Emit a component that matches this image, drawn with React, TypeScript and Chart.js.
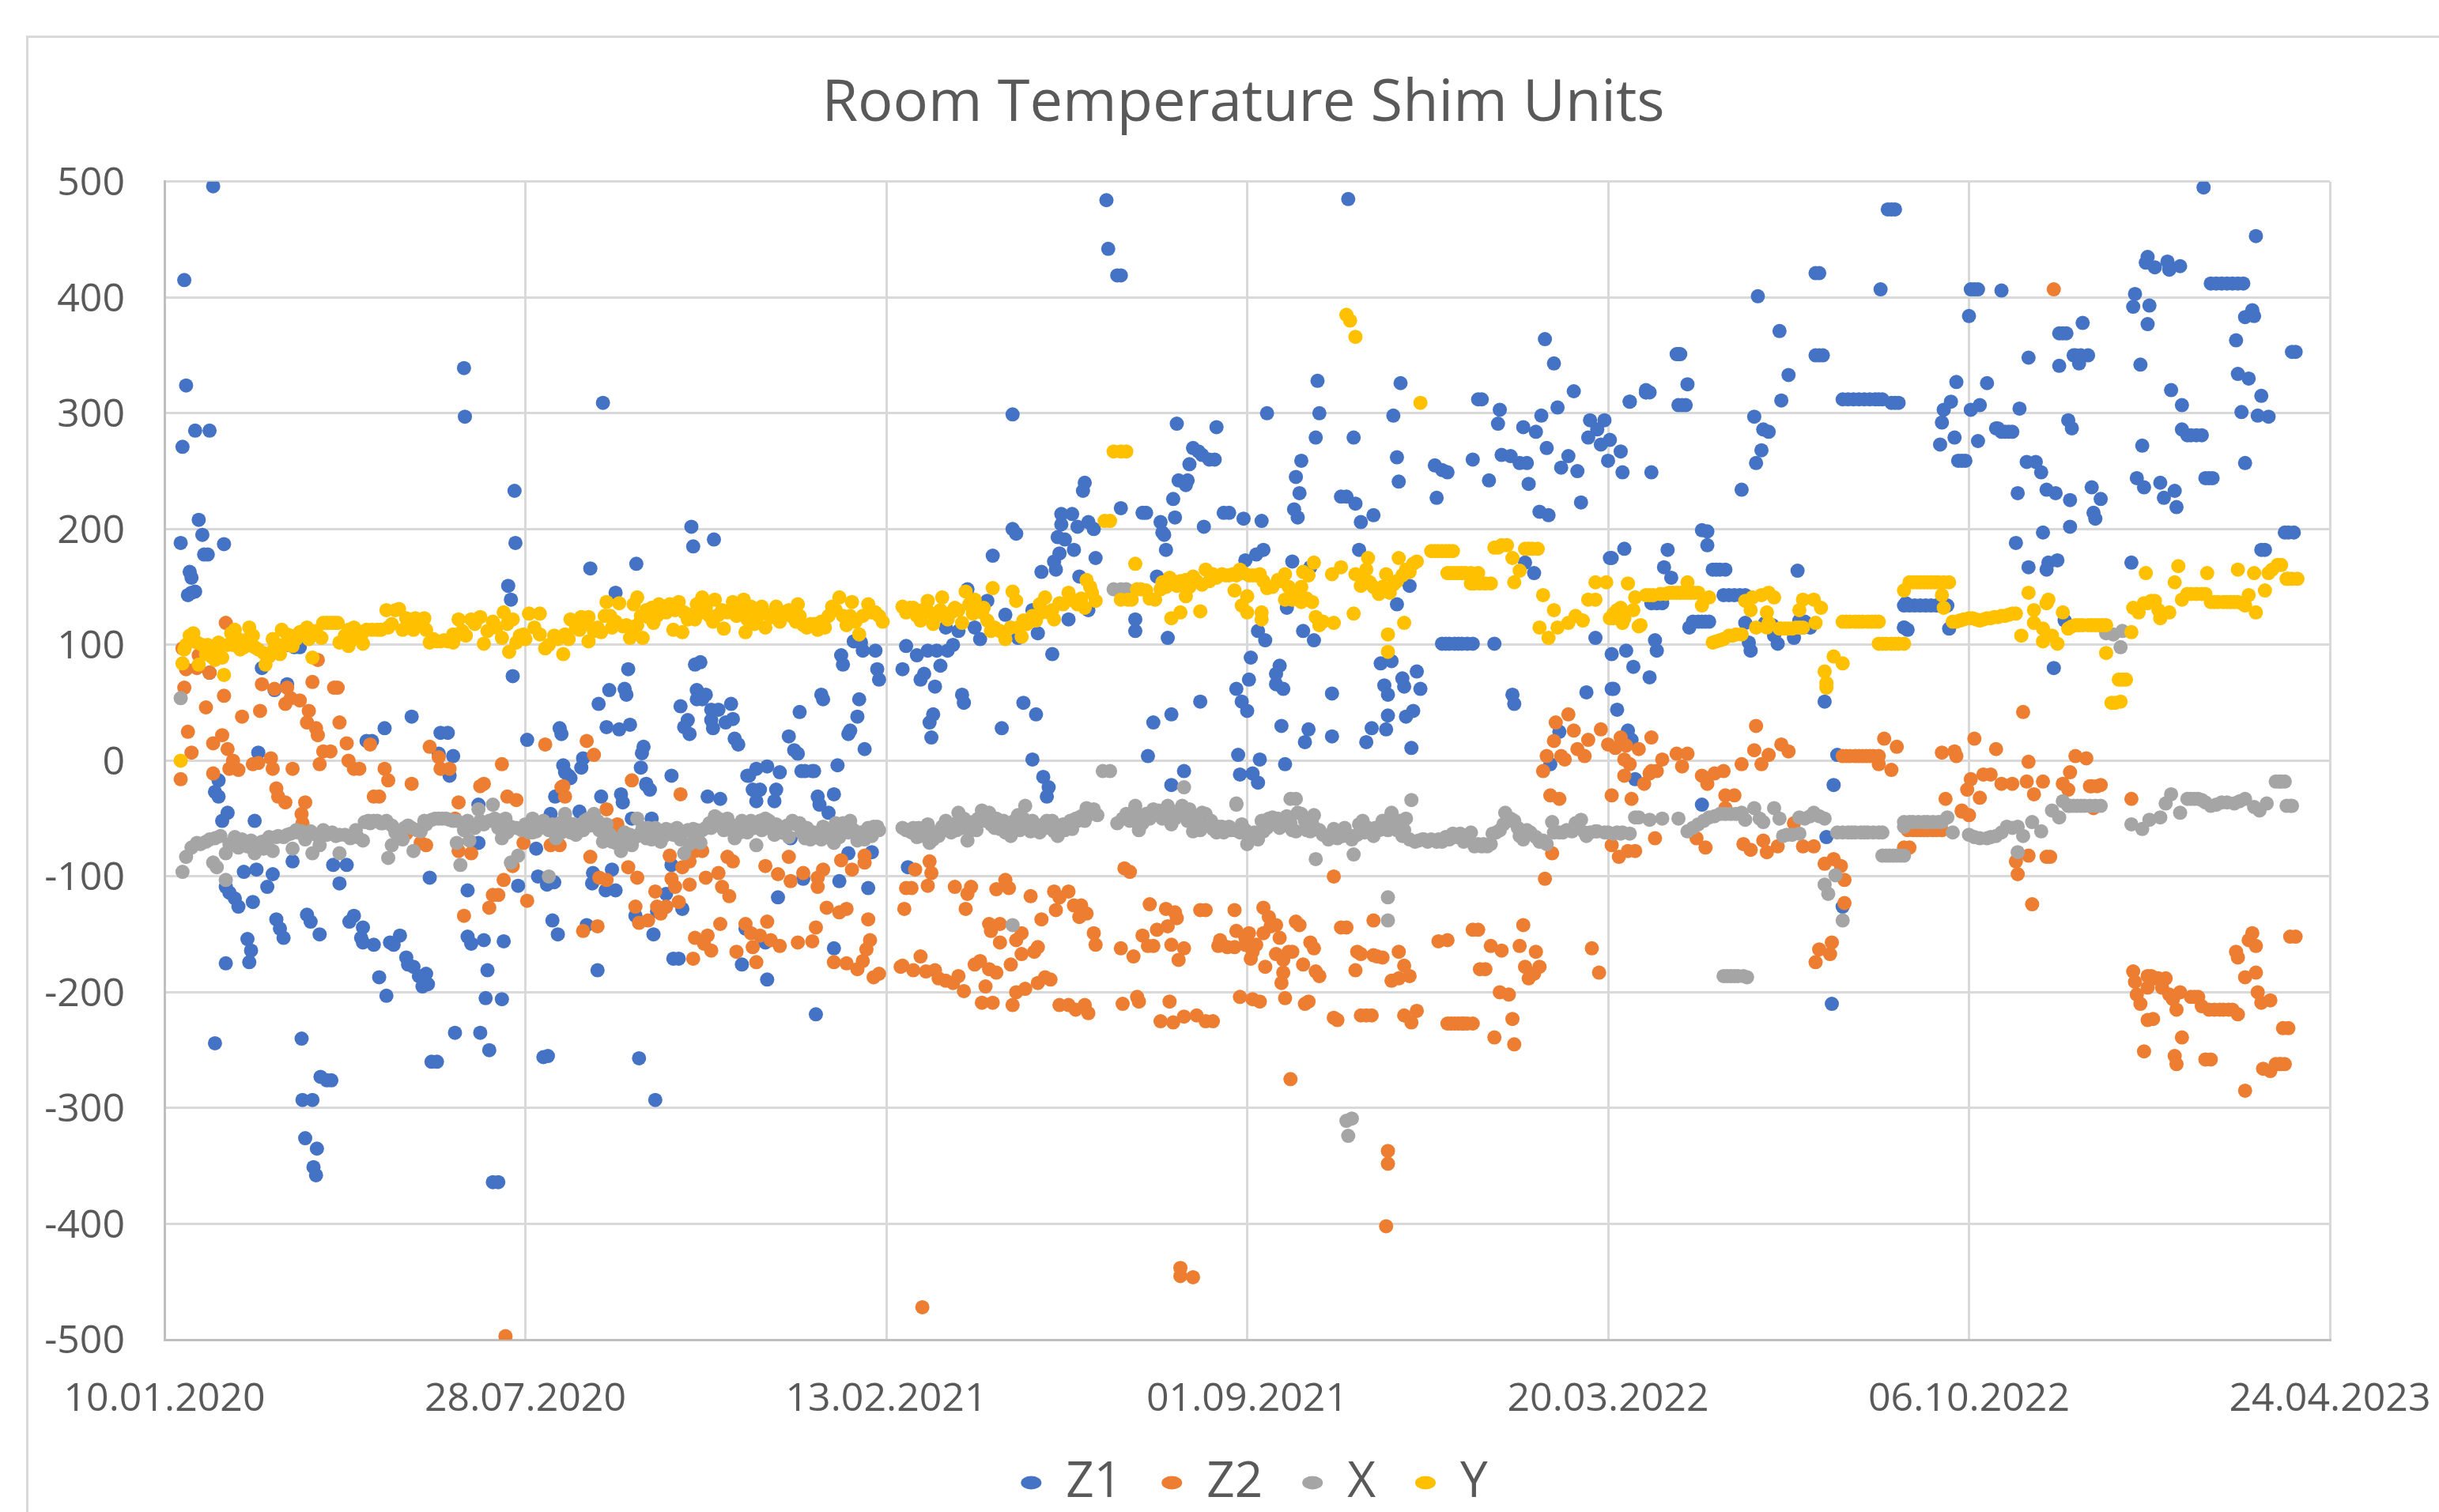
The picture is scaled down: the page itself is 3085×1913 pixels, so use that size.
import React, { useEffect, useRef } from "react";
import { Chart, registerables } from "chart.js";

Chart.register(...registerables);

const titleText = "Room Temperature Shim Units";
const xTickLabels = ["10.01.2020", "28.07.2020", "13.02.2021", "01.09.2021", "20.03.2022", "06.10.2022", "24.04.2023"];
const seriesNames = ["Z1", "Z2", "X", "Y"];

// [days since 10.01.2020, value]
const z1Data = [
[27,496],[11,415],[12,324],[17,285],[25,285],[10,271],[19,208],[21,195],[9,188],[33,187],[22,178],[24,178],[14,163],[15,158],[13,143],[17,146],[15,145],[68,100],[75,98],[72,98],[54,80],[25,76],[61,61],[68,66],[52,7],[30,-17],[137,38],[122,28],[112,17],[115,17],[152,6],[153,24],[157,24],[160,4],[158,-13],[194,233],[194.5,188],[190.5,151],[192,139],[193,73],[166,339],[166.5,297],[243,309],[292,202],[293,185],[304.5,191],[236,166],[261.5,170],[250,145],[257,79],[246.5,61],[240.6,49],[255,62],[256,57],[245,29],[252,27],[258,31],[201,18],[219,28],[220,23],[221,-4],[224,-13],[231,-6],[232,2],[264,-6],[265.5,12],[264.6,6.5],[267,-20],[281,-13],[294,83],[297,85],[286,47],[290,35],[288,29],[291,23],[295,61],[300,57],[295,53],[298,53],[303,44],[307,44],[303,35],[304,28],[311,33],[315,36],[314,49],[316,19],[318,14],[352,42],[364,57],[365,53],[346,21],[349,9],[351,6],[324,-13],[328,-7],[334,-5],[341,-10],[353,-9],[359,-9],[373,-4],[375,91],[376,83],[382,103],[386,102],[387,95],[385,53],[384,38],[379,23],[380,26],[388,10],
[28,-27],[30,-31],[35,-45],[32,-52],[50,-52],[71,-87],[60,-98],[44,-96],[51,-94],[34,-109],[36,-114],[39,-119],[41,-126],[49,-122],[57,-109],[62,-137],[64,-145],[66,-153],[46,-154],[48,-164],[47,-174],[34,-175],[79,-133],[81,-139],[86,-150],[93.5,-90],[101,-90],[97,-106],[105,-134],[102.5,-139],[110,-144],[109,-153],[110,-157],[116,-159],[125,-157],[130.5,-151],[127,-159],[147,-101],[134,-170],[135,-176],[138,-178],[145,-184],[146,-193],[143,-195],[141,-186],[119,-187],[123,-203],[148,-260],[151,-260],[161,-235],[175,-235],[180,-250],[178,-205],[187,-206],[179,-181],[168,-112],[168,-152],[170,-158],[177,-155],[188,-156],[196,-108],[182,-364],[185,-364],[28,-244],[76,-240],[86.5,-273],[90,-276],[92.5,-276],[76.5,-293],[82,-293],[78,-326],[84.5,-335],[82.6,-351],[84,-358],[210,-256],[212.5,-255],[263,-257],[272,-293],[361,-219],[334,-189],[207,-100],[212,-107],[216,-105],[215,-138],[218,-150],[237.5,-97],[237,-106],[244.5,-112],[250,-112],[248,-94],[234,-142],[240,-181],[261,-134],[271,-150],[273,-130],[278,-126],[287,-128],[278,-115],[285,-171],[282,-171],[320,-176],[322,-145],[333,-157],[340,-118],[354,-102],[374,-104],[390,-110],[371,-162],[379,-80],[392,-79],[412,-92],
[222,-10],[225,-15],[216.5,-31],[242,-31],[253,-29],[254,-36],[267,-21],[269,-25],[301,-31],[308,-33],[323,-13],[330,-25],[326,-25],[328,-35],[339,-25],[338,-35],[362,-31],[363,-38],[368,-45],[259,-50],[270,-50],[174,-38],[214,-46],[230,-44],[281,-90],[206,-76],[174,-71],[347,-67],[371,-29],[355,-9],[360,-9],
[522,484],[523,442],[528,419],[530,419],[656,485],[470,299],[561,291],[583,288],[570,270],[573,267],[575,264],[579,260],[582,260],[568,256],[562,242],[567,242],[566,238],[559,226],[560,210],[552,206],[553,197],[554,195],[576,202],[555,182],[510,240],[509,233],[530,218],[542,214],[544,214],[497,213],[503,213],[497,204],[506,202],[512,206],[515,200],[495,193],[499,191],[470,200],[472,196],[504,182],[496,179],[493,172],[516,175],[459,177],[494,165],[486,163],[507,159],[445,148],[456,138],[466,126],[501,122],[512,130],[481,130],[433,115],[440,112],[449,115],[452,105],[473,106],[484,110],[492,92],[411,99],[394,95],[417,91],[423,95],[428,95],[434,95],[437,100],[430,82],[409,79],[395,79],[396,70],[419,70],[421,75],[427,64],[442,57],[443,50],[426,40],[424,33],[425,20],[476,50],[483,40],[464,28],[481,1],[487,-14],[490,-23],[489,-31],[545,4],[548,33],[558,40],[574,51],[565,-9],[558,-21],[550,159],[538,122],[538,112],[556,106],[599,173],[605,178],[609,182],[598,209],[608,207],[590,214],[587,214],[611,300],[640,300],[639,328],[638,279],[630,259],[627,245],[629,231],[626,217],[628,210],[659,279],[652,228],[655,228],[660,222],[663,206],[670,212],[685,326],[681,298],[683,262],[684,241],[662,182],[625,172],[635,167],[730,312],[728,312],[740,303],[739,291],[704,255],[708,251],[711,249],[725,260],[705,227],[741,264],[746,263],[751,257],[755,257],[734,242],[756,239],[753,288],[760,284],[763,298],[772,305],[781,319],[765,364],[770,343],[766,270],[778,263],[774,253],[783,250],[762,215],[767,212],[785,223],[790,294],[798,294],[794,286],[789,279],[801,277],[796,273],[807,267],[800,259],[808,249],[824,249],[812,310],[821,318],[801,175],[809,183],[754,171],[759,162],[690,151],[683,135],[708,101],[712,101],[717,101],[722,101],[725,101],[737,101],[793,106],[802,92],[810,95],[814,81],[823,72],[826,104],[827,95],[602,89],[606,112],[610,104],[601,70],[594,62],[597,51],[600,43],[618,82],[616,75],[616,66],[620,62],[631,112],[637,104],[622,132],[619,30],[634,27],[632,16],[647,21],[647,58],[676,65],[678,57],[686,71],[687,64],[694,77],[696,62],[674,84],[680,86],[678,39],[688,38],[692,43],[669,28],[677,27],[666,16],[691,11],[595,5],[607,1],[621,-3],[596,-12],[603,-11],[606,-19],[747,57],[748,49],[788,59],[803,62],[805,44],[773,25],[811,26],[813,18],[768,-3],[815,-16],
[957,476],[915,421],[883,401],[951,407],[1003,407],[1018,406],[1000,384],[895,371],[838,351],[917,350],[844,325],[900,333],[821,318],[812,310],[841,307],[896,311],[930,312],[936,312],[942,312],[948,312],[952,312],[959,309],[881,297],[886,286],[889,284],[885,268],[882,257],[874,234],[993,327],[1010,326],[990,310],[986,303],[985,292],[1001,303],[1006,307],[1028,304],[992,279],[984,273],[1005,276],[996,259],[998,259],[1015,287],[1020,284],[1024,284],[1033,348],[1052,369],[1063,378],[1050,341],[1059,350],[1066,350],[1061,343],[1055,294],[1057,287],[1032,258],[1037,258],[1040,249],[1027,231],[1043,234],[1048,231],[1056,225],[1068,236],[1073,226],[1069,214],[1070,209],[1041,197],[1056,202],[1026,188],[1092,403],[1091,392],[1100,393],[1099,377],[1099,435],[1098,430],[1103,426],[1110,431],[1111,424],[1117,427],[1134,412],[1140,412],[1146,412],[1152,412],[1130,495],[1159,453],[1153,383],[1157,389],[1158,384],[1148,363],[1095,342],[1181,353],[1149,334],[1155,330],[1162,315],[1112,320],[1118,307],[1151,301],[1160,298],[1166,297],[1096,272],[1118,286],[1121,281],[1126,281],[1129,281],[1153,257],[1093,244],[1097,236],[1106,240],[1114,233],[1108,227],[1115,219],[1133,244],[1177,197],[1164,182],[1090,171],[1033,167],[1043,165],[1044,171],[1049,173],[852,199],[855,198],[855,186],[802,175],[833,182],[831,167],[835,158],[858,165],[862,165],[865,165],[905,164],[864,143],[870,143],[876,143],[824,136],[830,136],[847,120],[852,120],[856,120],[845,115],[964,115],[989,114],[964,134],[970,134],[976,134],[982,134],[988,134],[876,119],[891,117],[906,121],[912,115],[878,102],[879,95],[892,108],[894,101],[903,106],[920,51],[802,62],[852,-38],[925,-21],[927,5],[1053,121],[1047,80],[921,-66],[930,-126],[924,-210],
[710,101],[715,101],[719,101],[933,312],[939,312],[945,312],[950,312],[1137,412],[1143,412],[1149,412],[967,134],[973,134],[979,134],[985,134],[860,165],[867,143],[873,143],[827,136],[850,120],[854,120],[1123,281],[1179,353],[1175,197],[1162,182],[1180,197],[1135,244],[1131,244],[955,476],[959,476],[917,421],[1054,369],[1001,407],[1005,407],[839,351],[840,351],[919,350],[915,350],[821,320],[823,318],[843,307],[839,307],[957,309],[961,309],[1050,369],[1018,284],[1022,284],[1016,287],[994,259],[1058,350],[1062,350],[964,115],[966,113],[887,119],[909,120],[965,136],[908,115]
];

const z2Data = [
[34,119],[10,97],[19,91],[12,79],[18,80],[25,76],[85,87],[11,63],[54,66],[61,62],[68,63],[70,54],[67,49],[75,52],[82,68],[94,63],[96,63],[33,56],[23,46],[43,38],[53,43],[80,43],[79,33],[84,28],[85,22],[97,33],[13,25],[32,22],[27,15],[35,10],[15,7],[101,15],[88,8],[92,8],[114,14],[147,12],[152,3],[211,14],[234,17],[238,5],[9,-16],[27,-11],[38,0],[36,-7],[41,-8],[49,-3],[52,-2],[59,2],[60,-7],[71,-7],[86,-3],[102,0],[105,-7],[108,-7],[122,-7],[124,-17],[137,-20],[153,-7],[158,-7],[187,-3],[175,-22],[177,-20],[259,-17],[221,-22],
[62,-24],[63,-31],[67,-36],[78,-36],[76,-46],[76.5,-54],[119,-31],[116,-31],[163,-36],[190,-31],[195,-34],[161,-50],[145,-73],[142,-71],[134,-63],[163,-78],[170,-80],[199,-71],[193,-91],[188,-103],[182,-116],[185,-116],[201,-121],[180,-127],[166,-134],[219,-73],[214,-73],[236,-83],[241,-101],[245,-103],[232,-147],[240,-143],[245,-42],[251,-55],[249,-63],[257,-92],[262,-101],[286,-29],[222,-31],[220,-23],[261,-126],[272,-113],[273,-126],[278,-126],[285,-122],[275,-132],[263,-140],[268,-138],[281,-102],[283,-109],[291,-87],[287,-92],[291,-107],[294,-78],[298,-78],[280,-82],[300,-101],[307,-97],[309,-109],[313,-117],[312,-83],[315,-87],[308,-141],[293,-171],[294,-153],[301,-151],[299,-158],[303,-164],[317,-165],[326,-161],[328,-174],[322,-141],[325,-149],[330,-151],[336,-155],[341,-160],[351,-157],[359,-156],[334,-139],[333,-91],[340,-98],[347,-104],[346,-83],[354,-97],[362,-109],[365,-94],[362,-101],[361,-144],[367,-127],[374,-131],[378,-128],[390,-137],[410,-128],[375,-86],[381,-94],[388,-88],[388,-82],[371,-174],[378,-175],[384,-180],[391,-155],[389,-163],[387,-173],[393,-187],[396,-184],[408,-178],[189,-497],
[420,-472],[563,-438],[563,-445],[570,-446],[624,-275],[678,-337],[678,-348],[677,-402],[416,-94],[424,-87],[425,-97],[411,-110],[414,-110],[423,-108],[438,-109],[445,-115],[447,-109],[444,-128],[461,-111],[466,-103],[468,-110],[480,-117],[493,-113],[496,-118],[501,-113],[504,-125],[508,-125],[511,-132],[507,-135],[494,-129],[486,-137],[457,-141],[463,-141],[458,-147],[463,-157],[475,-149],[472,-155],[475,-167],[482,-165],[484,-161],[515,-149],[516,-159],[409,-177],[419,-169],[415,-181],[422,-182],[427,-181],[429,-188],[433,-190],[440,-186],[437,-192],[443,-199],[449,-176],[452,-173],[457,-180],[461,-183],[469,-176],[455,-195],[453,-209],[459,-209],[470,-211],[472,-200],[477,-197],[484,-192],[488,-187],[491,-189],[496,-211],[501,-211],[510,-211],[505,-215],[512,-218],[531,-210],[539,-204],[540,-208],[557,-208],[552,-225],[559,-226],[565,-221],[572,-220],[577,-225],[581,-225],[532,-93],[535,-96],[546,-124],[555,-128],[560,-131],[561,-136],[556,-143],[550,-146],[542,-151],[548,-160],[545,-160],[558,-159],[565,-162],[562,-172],[537,-169],[530,-162],[574,-129],[577,-129],[593,-129],[584,-160],[589,-161],[593,-161],[585,-155],[594,-147],[599,-153],[601,-149],[609,-149],[613,-143],[609,-127],[612,-135],[616,-142],[599,-159],[605,-159],[603,-165],[602,-171],[610,-178],[618,-153],[616,-167],[620,-172],[623,-165],[625,-165],[620,-183],[619,-192],[596,-204],[603,-206],[607,-208],[621,-205],[632,-210],[634,-208],[627,-139],[629,-142],[631,-176],[638,-182],[640,-186],[635,-157],[637,-162],[648,-100],[652,-144],[655,-144],[648,-222],[650,-224],[666,-220],[663,-220],[669,-220],[670,-138],[661,-165],[670,-168],[675,-170],[684,-165],[687,-177],[690,-186],[660,-181],[680,-190],[684,-188],[687,-220],[694,-216],[691,-226],[706,-156],[711,-155],[728,-146],[725,-146],[735,-160],[741,-164],[729,-180],[732,-180],[740,-200],[745,-202],[711,-227],[717,-227],[722,-227],[725,-227],[737,-239],[747,-223],[748,-245],[753,-142],[760,-165],[751,-160],[754,-178],[762,-178],[756,-188],[759,-184],[791,-162],[795,-183],[765,-102],[769,-80],
[768,-30],[773,-33],[802,-30],[813,-33],[764,-9],[766,4],[770,17],[771,33],[778,40],[781,26],[774,4],[776,1],[783,10],[787,4],[789,18],[796,27],[800,14],[807,20],[810,13],[804,11],[809,1],[812,-3],[809,-13],[817,10],[824,20],[820,-20],[824,-9],[823,-11],[830,1],[838,6],[844,6],[841,-5],[827,-9],[852,-13],[855,-20],[859,-11],[864,-9],[865,-30],[870,-30],[874,-3],[882,30],[881,9],[889,5],[885,-3],[896,14],[900,8],[953,19],[960,12],[950,-3],[957,-8],[930,4],[937,4],[945,4],[950,4],[985,7],[992,8],[993,4],[1003,19],[1015,10],[1033,-1],[1059,4],[1065,2],[1056,-10],[987,-33],[996,-44],[1006,-32],[1001,-16],[999,-25],[1008,-12],[1012,-12],[1018,-20],[1024,-20],[1032,-18],[1041,-18],[1052,-20],[1036,-29],[1055,-25],[1068,-22],[1073,-21],[1090,-33],[1030,42],[1047,407],
[802,-73],[806,-83],[815,-78],[811,-78],[826,-67],[849,-67],[854,-75],[865,-41],[875,-72],[879,-77],[886,-69],[888,-79],[894,-74],[903,-54],[908,-74],[914,-74],[920,-89],[925,-85],[929,-91],[931,-103],[931,-123],[924,-157],[917,-163],[923,-167],[915,-174],[964,-75],[967,-75],[966,-60],[973,-60],[980,-60],[985,-60],[996,-43],[1000,-47],[1026,-87],[1027,-98],[1033,-82],[1043,-83],[1045,-83],[1035,-124],[1069,-41],[1091,-182],[1092,-191],[1093,-202],[1095,-210],[1099,-186],[1103,-188],[1109,-188],[1099,-196],[1107,-196],[1111,-202],[1113,-206],[1117,-200],[1115,-215],[1123,-204],[1127,-204],[1129,-212],[1133,-215],[1139,-215],[1144,-215],[1149,-219],[1099,-224],[1102,-223],[1118,-239],[1097,-251],[1114,-255],[1115,-262],[1131,-258],[1134,-258],[1148,-165],[1149,-170],[1155,-155],[1157,-149],[1159,-160],[1159,-183],[1153,-187],[1160,-200],[1162,-209],[1167,-207],[1181,-152],[1178,-152],[1177,-231],[1174,-231],[1163,-266],[1167,-268],[1170,-262],[1175,-262],[1153,-285],
[713,-227],[715,-227],[719,-227],[720,-227],[932,4],[934,4],[939,4],[941,4],[943,4],[947,4],[969,-60],[971,-60],[975,-60],[977,-60],[982,-60],[1136,-215],[1141,-215],[1146,-215],[1172,-262],[1105,-188],[1173,-262],[1101,-186],[1125,-204],[1067,-22],[1071,-22],[663,-167],[672,-169]
];

const xData = [
[9,54],[10,-96],[12,-83],[15,-75],[18,-71],[23,-70],[28,-67],[31,-65],[34,-80],[39,-66],[44,-71],[48,-69],[50,-80],[55,-76],[60,-78],[63,-65],[71,-76],[70,-63],[76,-61],[81,-61],[82,-80],[86,-73],[90,-64],[97,-64],[97,-80],[103,-67],[110,-69],[111,-53],[118,-52],[123,-52],[124,-84],[126,-73],[130,-63],[135,-56],[138,-78],[142,-61],[148,-51],[156,-50],[162,-52],[164,-90],[162,-71],[169,-69],[174,-42],[177,-55],[182,-38],[187,-67],[192,-57],[192,-88],[196,-82],[200,-55],[204,-50],[206,-61],[213,-100],[27,-88],[29,-92],[34,-103],
[217,-67],[222,-46],[227,-55],[233,-52],[238,-46],[245,-55],[250,-71],[253,-78],[259,-73],[262,-50],[267,-67],[273,-63],[278,-59],[288,-80],[293,-59],[297,-71],[305,-48],[312,-50],[316,-67],[325,-52],[328,-73],[333,-50],[339,-55],[350,-55],[355,-67],[365,-57],[371,-71],[380,-52],[384,-69],[393,-57],
[36,-72],[41,-75],[46,-74],[52,-72],[57,-70],[66,-66],[74,-62],[78,-68],[84,-64],[93,-62],[100,-64],[106,-60],[114,-54],[120,-54],[128,-62],[132,-68],[140,-60],[145,-55],[152,-50],[158,-51],[166,-60],[172,-58],[180,-52],[185,-58],[190,-62],[198,-60],[202,-62],[208,-58],[211,-56],[215,-55],[220,-62],[225,-62],[230,-60],[236,-56],[241,-60],[243,-70],[247,-64],[252,-68],[256,-72],[261,-66],[265,-58],[270,-68],[275,-70],[282,-64],[286,-68],[291,-72],[295,-60],[300,-58],[303,-58],[308,-55],[314,-60],[319,-62],[322,-56],[331,-60],[336,-58],[342,-62],[346,-66],[352,-54],[358,-68],[362,-64],[368,-62],[374,-66],[377,-60],[386,-62],[390,-58],[396,-60],
[395,-57],[409,-58],[415,-58],[419,-65],[423,-55],[424,-71],[431,-57],[437,-55],[440,-45],[445,-69],[448,-53],[453,-43],[458,-55],[463,-59],[470,-59],[473,-47],[477,-39],[480,-61],[487,-55],[493,-61],[498,-55],[503,-59],[511,-41],[517,-47],[531,-50],[538,-39],[542,-54],[551,-43],[556,-39],[558,-55],[564,-39],[570,-61],[575,-45],[581,-59],[586,-57],[594,-37],[600,-72],[609,-61],[614,-49],[620,-55],[627,-61],[628,-45],[637,-47],[635,-61],[638,-85],[648,-59],[653,-65],[659,-81],[662,-55],[670,-65],[676,-59],[680,-45],[691,-34],[686,-65],[695,-69],[706,-68],[718,-63],[726,-74],[736,-63],[743,-45],[751,-65],[764,-69],[769,-53],[780,-61],[785,-51],[793,-61],[807,-63],[815,-49],
[412,-60],[417,-66],[421,-62],[427,-62],[434,-60],[442,-58],[450,-60],[455,-52],[460,-58],[466,-62],[474,-60],[478,-58],[483,-60],[490,-58],[496,-58],[500,-56],[506,-52],[513,-46],[528,-54],[535,-52],[546,-50],[553,-50],[560,-50],[567,-52],[572,-55],[578,-56],[584,-57],[590,-57],[597,-55],[604,-62],[611,-58],[617,-50],[624,-54],[632,-52],[640,-60],[645,-68],[651,-62],[656,-64],[665,-62],[673,-60],[678,-60],[684,-52],[688,-50],[698,-68],[702,-68],[710,-66],[714,-63],[722,-66],[730,-74],[733,-74],[740,-60],[746,-50],[755,-60],[760,-66],[773,-62],[777,-60],[790,-62],[798,-62],[808,-62],
[470,-142],[678,-118],[678,-138],[658,-309],[655,-311],[656,-324],[624,-33],[627,-33],[520,-9],[524,-9],[526,148],[530,148],[533,148],[565,-23],[594,-38],
[788,-65],[794,-61],[803,-63],[812,-63],[817,-49],[823,-51],[830,-50],[839,-50],[844,-61],[850,-55],[856,-49],[862,-46],[874,-45],[881,-41],[876,-51],[886,-53],[892,-41],[897,-65],[906,-63],[906,-49],[914,-45],[920,-50],[930,-62],[937,-62],[944,-62],[952,-62],[952,-82],[958,-82],[964,-82],[964,-53],[972,-53],[980,-53],[985,-53],[964,-57],[988,-49],[991,-62],[1000,-64],[1006,-67],[1015,-65],[1021,-57],[1027,-57],[1030,-65],[1035,-53],[1040,-61],[1046,-43],[1050,-49],[1052,-35],[1055,-39],[1064,-39],[1073,-39],[1027,-79],[1090,-55],[1096,-59],[1100,-51],[1106,-49],[1109,-37],[1112,-29],[1117,-45],[1121,-33],[1127,-33],[1134,-39],[1140,-36],[1147,-37],[1153,-33],[1161,-43],[1165,-37],[1179,-39],[1176,-39],[1170,-18],[1175,-18],[920,-107],[926,-99],[922,-115],[930,-138],[864,-186],[868,-186],[872,-186],[877,-187],[1076,110],[1080,109],[1085,112],[1084,98],
[933,-62],[935,-62],[940,-62],[942,-62],[947,-62],[950,-62],[954,-82],[956,-82],[960,-82],[962,-82],[967,-53],[969,-53],[975,-53],[977,-53],[983,-53],[866,-186],[870,-186],[875,-186],[1056,-39],[1058,-39],[1060,-39],[1062,-39],[1067,-39],[1070,-39],[1003,-66],[1010,-67],[1012,-66],[1018,-62],[1024,-58],[1123,-33],[1125,-33],[1129,-34],[1131,-36],[1137,-38],[1143,-36],[1150,-35],[1178,-39],[1172,-18],[1173,-18],[1158,-40],[847,-58],[853,-52],[859,-48],[865,-46],[868,-46],[871,-46],[884,-50],[895,-50],[899,-64],[902,-64],[909,-50],[912,-48],[917,-48],[927,-62],
[20,-72],[25,-68],[43,-68],[54,-70],[58,-66],[62,-66],[68,-64],[73,-60],[88,-60],[95,-65],[107,-66],[113,-52],[116,-52],[121,-54],[126,-56],[133,-58],[137,-58],[144,-52],[150,-50],[154,-50],[160,-52],[168,-52],[175,-52],[183,-50],[189,-50],[195,-58],[204,-62],[210,-52],[213,-60],[219,-54],[224,-54],[228,-64],[232,-60],[235,-50],[240,-52],[248,-70],[255,-62],[258,-64],[264,-62],[268,-58],[272,-58],[277,-65],[280,-60],[284,-58],[290,-60],[294,-66],[298,-60],[302,-54],[307,-50],[310,-60],[317,-56],[320,-52],[323,-62],[327,-58],[330,-52],[335,-52],[338,-64],[345,-56],[348,-52],[353,-62],[356,-58],[360,-62],[364,-68],[367,-66],[370,-60],[372,-54],[376,-54],[379,-62],[382,-60],[388,-68],[392,-65],
[411,-60],[414,-62],[418,-58],[426,-68],[429,-65],[433,-52],[436,-62],[439,-60],[443,-50],[447,-60],[451,-50],[457,-45],[461,-50],[465,-52],[469,-65],[471,-52],[476,-50],[481,-52],[485,-62],[489,-52],[492,-52],[495,-65],[499,-60],[502,-52],[505,-50],[508,-48],[510,-52],[515,-42],[533,-46],[537,-46],[540,-60],[544,-46],[548,-42],[554,-45],[557,-46],[561,-44],[565,-46],[568,-42],[571,-50],[574,-60],[577,-46],[580,-52],[583,-62],[587,-62],[591,-60],[593,-60],[596,-62],[599,-60],[602,-66],[606,-68],[608,-52],[612,-50],[615,-52],[618,-58],[622,-48],[625,-60],[630,-46],[633,-60],[636,-54],[642,-64],[647,-64],[650,-67],[654,-58],[658,-68],[661,-64],[664,-52],[667,-58],[671,-58],[675,-52],[679,-50],[683,-60],[687,-60],[690,-68],[693,-70],[697,-68],[700,-70],[705,-70],[708,-70],[712,-68],[716,-66],[720,-70],[724,-62],[728,-72],[731,-72],[735,-72],[738,-62],[742,-55],[745,-52],[748,-52],[750,-58],[753,-68],[757,-62],[762,-70],[766,-72],[770,-62],[775,-62],[782,-54],[787,-62],[800,-62],[805,-62]
];

const yData = [
[9,0],[11,96],[10,84],[14,108],[16,110],[19,83],[21,100],[24,100],[27,98],[30,102],[32,89],[28,87],[33,74],[39,113],[38,100],[42,96],[47,115],[47,106],[50,98],[55,93],[61,98],[64,92],[56,83],[65,113],[68,109],[71,99],[75,111],[79,115],[82,109],[87,106],[82,89],[88,119],[94,119],[97,102],[102,113],[102,99],[105,115],[110,101],[112,113],[118,113],[124,115],[123,130],[130,131],[132,113],[134,123],[139,123],[144,123],[138,113],[145,113],[147,102],[153,103],[160,102],[163,122],[160,109],[167,108],[170,122],[175,124],[177,101],[182,120],[187,106],[188,128],[193,122],[191,94],[195,102],[199,109],[202,127],[208,127],[211,97],[208,109],[216,108],[221,92],[222,109],[225,122],[231,124],[235,124],[235,103],[230,113],[242,111],[245,137],[252,136],[248,115],[256,117],[258,106],[262,141],[260,135],[262,117],[265,106],[268,124],[274,135],[271,119],[280,135],[285,137],[282,113],[287,111],[290,122],[295,135],[298,141],[304,120],[305,139],[307,126],[310,114],[315,137],[321,139],[322,111],[325,133],[331,133],[333,115],[339,133],[337,124],[351,135],[348,124],[354,117],[362,113],[366,115],[370,133],[374,141],[378,117],[381,137],[385,109],[390,135],
[394,128],[409,133],[415,132],[417,125],[419,121],[423,138],[424,128],[426,118],[431,141],[434,122],[438,132],[442,119],[444,146],[448,127],[449,139],[454,132],[456,121],[458,112],[463,112],[466,105],[469,115],[475,107],[476,121],[483,121],[486,128],[488,141],[493,122],[496,136],[501,145],[504,138],[510,132],[511,156],[514,145],[516,138],[470,146],[472,138],[459,149],[530,139],[536,139],[539,148],[544,147],[549,139],[538,170],[558,123],[563,128],[574,129],[553,154],[557,158],[561,151],[566,156],[566,142],[570,159],[575,152],[577,165],[581,161],[586,161],[592,161],[596,165],[601,160],[607,161],[593,147],[600,142],[597,134],[600,128],[608,128],[608,122],[611,149],[617,156],[621,161],[630,150],[621,139],[625,139],[630,137],[631,163],[634,160],[637,171],[636,137],[638,124],[640,117],[648,119],[647,161],[652,167],[659,127],[660,161],[663,151],[667,175],[668,154],[673,144],[677,161],[681,152],[684,175],[690,163],[694,172],[678,109],[678,94],[687,119],[655,385],[657,380],[660,366],[696,309],[526,267],[530,267],[533,267],[521,207],[524,207],[702,181],[708,181],[714,181],[711,162],[717,162],[724,162],[728,162],[724,153],[729,153],[735,153],[737,184],[744,186],[754,183],[761,183],[747,175],[751,164],[748,154],[764,143],[770,130],[762,115],[767,106],[772,115],[778,119],[782,125],[786,121],[793,154],[799,154],[811,153],[789,139],[793,139],[803,127],[807,132],[808,119],[801,123],[817,116],
[815,141],[821,143],[829,144],[836,145],[844,154],[844,145],[850,145],[856,141],[852,134],[805,130],[803,123],[809,123],[814,130],[818,117],[858,102],[862,104],[867,108],[874,109],[876,138],[880,141],[885,143],[889,145],[892,141],[879,130],[888,128],[889,119],[882,115],[888,115],[895,114],[902,114],[908,115],[908,139],[914,139],[906,130],[918,132],[915,119],[920,77],[921,67],[921,63],[925,90],[930,84],[930,120],[937,120],[944,120],[950,120],[950,101],[957,101],[964,101],[964,147],[967,154],[973,154],[979,154],[989,154],[985,143],[986,132],[991,120],[1000,123],[1006,121],[1012,123],[1018,125],[1026,127],[1029,108],[1033,145],[1036,130],[1036,119],[1044,139],[1043,136],[1052,128],[1041,114],[1046,108],[1041,103],[1049,101],[1055,114],[1061,117],[1070,117],[1076,117],[1076,93],[1087,70],[1079,50],[1084,51],[1090,111],[1091,132],[1097,136],[1103,138],[1094,128],[1106,123],[1111,128],[1098,162],[1116,168],[1114,154],[1132,162],[1118,139],[1123,144],[1129,144],[1134,137],[1141,137],[1147,137],[1153,134],[1159,128],[1155,143],[1164,147],[1149,165],[1158,162],[1166,162],[1171,169],[1176,157],[1179,157],[1182,157],
[704,181],[706,181],[710,181],[712,181],[713,162],[715,162],[719,162],[721,162],[726,153],[732,153],[739,184],[741,186],[756,183],[758,183],[932,120],[934,120],[939,120],[941,120],[946,120],[948,120],[952,101],[954,101],[959,101],[961,101],[969,154],[971,154],[975,154],[977,154],[981,154],[983,154],[986,154],[993,120],[995,121],[997,122],[1002,123],[1004,122],[1008,122],[1010,123],[1014,124],[1016,124],[1020,125],[1022,126],[1024,127],[1057,116],[1059,117],[1063,117],[1066,117],[1068,117],[1072,117],[1074,117],[896,114],[898,114],[900,114],[904,115],[906,115],[860,103],[864,105],[869,108],[871,109],[1136,137],[1138,137],[1143,137],[1145,137],[1149,137],[1151,136],[823,143],[825,143],[832,144],[834,145],[838,145],[840,145],[842,145],[846,145],[848,145],[1081,50],[1083,70],[1085,70],[1173,169],[1168,165],[1177,157],[1121,144],[1126,144],[1131,144],[1099,136],[1101,138],[1105,130],
[12,100],[18,102],[23,92],[26,90],[29,94],[35,100],[37,110],[41,105],[44,98],[46,100],[49,108],[52,96],[58,90],[60,105],[63,100],[67,100],[70,108],[73,105],[77,112],[80,105],[84,112],[90,119],[92,119],[96,119],[100,108],[104,105],[107,112],[109,108],[115,113],[120,113],[126,118],[128,130],[136,122],[141,120],[143,118],[149,105],[151,103],[155,104],[157,103],[162,108],[165,112],[172,118],[179,112],[184,115],[190,118],[197,108],[200,105],[205,115],[213,100],[218,105],[224,105],[228,115],[233,118],[238,112],[240,115],[244,125],[247,125],[250,120],[254,116],[259,112],[264,125],[267,130],[270,132],[273,125],[276,130],[278,128],[283,130],[288,128],[292,126],[294,122],[297,128],[300,132],[302,125],[309,130],[312,128],[317,125],[319,130],[323,122],[327,118],[329,125],[335,126],[341,120],[343,128],[346,130],[350,120],[352,125],[356,115],[358,118],[360,118],[364,120],[368,125],[372,130],[376,125],[380,125],[383,120],[387,125],[392,128],[396,125],[398,120],
[411,128],[413,132],[420,130],[428,125],[430,130],[436,128],[440,130],[446,135],[451,130],[453,128],[460,115],[465,110],[473,115],[478,118],[481,125],[485,135],[490,128],[492,130],[498,135],[502,140],[506,135],[508,140],[513,150],[534,139],[541,148],[546,140],[552,148],[555,150],[559,155],[563,155],[568,150],[572,155],[579,155],[583,158],[588,160],[590,160],[594,160],[598,162],[603,160],[605,160],[609,155],[614,150],[619,155],[623,150],[627,145],[633,140],[642,120],[664,155],[666,165],[670,150],[675,150],[679,145],[683,155],[686,160],[688,165],[692,170]
];

const seriesData = [z1Data, z2Data, xData, yData];
const seriesColors = ["#4472C4", "#ED7D31", "#A5A5A5", "#FFC000"];
const textColor = "#595959";
const fontFamily = "'Open Sans', sans-serif";

export default function App() {
  const ref = useRef<HTMLCanvasElement>(null);
  useEffect(() => {
    if (!ref.current) return;
    let shifted = false;
    const blockOffset = {
      id: "blockOffset",
      beforeDraw(c: any) {
        if (shifted) return;
        shifted = true;
        if (c.titleBlock) {
          c.titleBlock.left += 99;
          c.titleBlock.right += 99;
        }
        if (c.legend) {
          c.legend.left += 113;
          c.legend.right += 113;
          c.legend.top += 4;
          c.legend.bottom += 4;
        }
      },
    };
    const chart = new Chart(ref.current, {
      type: "scatter",
      data: {
        datasets: seriesNames.map((name, i) => ({
          label: name,
          data: seriesData[i].map(([x, y]) => ({ x, y })),
          backgroundColor: seriesColors[i],
          borderColor: seriesColors[i],
          pointRadius: 9,
          pointBorderWidth: 0,
          order: seriesNames.length - i,
        })),
      },
      plugins: [blockOffset],
      options: {
        responsive: false,
        animation: false,
        layout: { padding: { left: 0, right: 138, top: 0, bottom: 0 } },
        plugins: {
          tooltip: { enabled: false },
          title: {
            display: true,
            text: titleText,
            color: textColor,
            font: { family: fontFamily, size: 74, weight: "normal", lineHeight: 1.2 },
            padding: { top: 88, bottom: 53 },
          },
          legend: {
            display: true,
            position: "bottom",
            labels: {
              usePointStyle: true,
              pointStyle: "circle",
              boxHeight: 12,
              pointStyleWidth: 26,
              padding: 50,
              color: textColor,
              font: { family: fontFamily, size: 62 },
              sort: (a: any, b: any) => a.datasetIndex - b.datasetIndex,
            },
          },
        },
        scales: {
          x: {
            type: "linear",
            min: 0,
            max: 1200,
            afterBuildTicks: (s: any) => {
              s.ticks = xTickLabels.map((_, i) => ({ value: i * 200 }));
            },
            afterFit: (s: any) => {
              s.height = 96;
            },
            ticks: {
              autoSkip: false,
              maxRotation: 0,
              minRotation: 0,
              padding: 8,
              color: textColor,
              font: { family: fontFamily, size: 50 },
              callback: (v: any) => xTickLabels[Math.round(Number(v) / 200)],
            },
            grid: { color: "#D9D9D9", lineWidth: 3, drawTicks: true, tickLength: 38, tickColor: "rgba(0,0,0,0)" },
            border: { color: "#BFBFBF", width: 3 },
          },
          y: {
            min: -500,
            max: 500,
            afterFit: (s: any) => {
              s.width = 208;
            },
            ticks: {
              stepSize: 100,
              padding: 50,
              labelOffset: 3,
              color: textColor,
              font: { family: fontFamily, size: 50 },
            },
            grid: { color: "#D9D9D9", lineWidth: 3, drawTicks: false },
            border: { color: "#BFBFBF", width: 3 },
          },
        },
      },
    } as any);
    return () => chart.destroy();
  }, []);
  return (
    <div style={{ position: "absolute", left: 0, top: 0, width: 3085, height: 1913, overflow: "hidden", background: "#fff" }}>
      <div style={{ position: "absolute", left: 33, top: 45, width: 3200, height: 2000, border: "3px solid #D9D9D9" }} />
      <canvas ref={ref} width={3085} height={1913} style={{ position: "absolute", left: 0, top: 0, display: "block" }} />
    </div>
  );
}
